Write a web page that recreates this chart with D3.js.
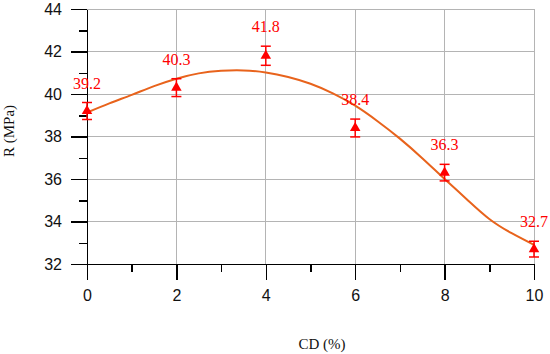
<!doctype html>
<meta charset="utf-8">
<style>
    body { margin: 0; background: #fff; }
    .axis path, .axis line { fill: none; stroke: #000; stroke-width: 1.5; shape-rendering: crispEdges; }
    .axis text { font-family: "Liberation Sans", Arial, sans-serif; font-size: 16px; fill: #111; }
    .grid line { stroke: #b4b4b4; stroke-width: 1; shape-rendering: crispEdges; }
    .title { font-family: "Liberation Serif", "Times New Roman", serif; font-size: 15px; fill: #111; }
    .lbl { font-family: "Liberation Serif", "Times New Roman", serif; font-size: 16px; fill: #ff0000; }
</style>
<body>
<script src="https://d3js.org/d3.v7.min.js"></script>
<script>
    // measured points
    const cd = [0, 2, 4, 6, 8, 10];
    const strength = [39.2, 40.3, 41.8, 38.4, 36.3, 32.7];
    const errors = [0.4, 0.42, 0.45, 0.42, 0.39, 0.37];
    // fitted curve
    const fitX = [0, 0.5, 1, 1.5, 2, 2.5, 3, 3.5, 4, 4.5, 5, 5.5, 6, 6.5, 7, 7.5, 8, 8.5, 9, 9.5, 10];
    const fitY = [39.13, 39.56, 39.96, 40.37, 40.72, 40.97, 41.09, 41.11, 41.01, 40.8, 40.48, 40.03, 39.45, 38.72, 37.9, 36.98, 36.0, 35.04, 34.12, 33.45, 32.9];
    // ticks
    const xTicks = [0, 2, 4, 6, 8, 10];
    const xMinor = [1, 3, 5, 7, 9];
    const yTicks = [32, 34, 36, 38, 40, 42, 44];
    const yMinor = [33, 35, 37, 39, 41, 43];

    const margin = {top: 9, right: 16, bottom: 90, left: 87};
    const width = 550 - margin.left - margin.right;
    const height = 354 - margin.top - margin.bottom;

    const x = d3.scaleLinear().domain([0, 10]).range([0, width]);
    const y = d3.scaleLinear().domain([32, 44]).range([height, 0]);

    const svg = d3.select('body')
        .append('svg')
        .attr('width', 550)
        .attr('height', 354)
        .append('g')
        .attr('transform', `translate(${margin.left}, ${margin.top})`);

    // grid
    const grid = svg.append('g').attr('class', 'grid');
    grid.selectAll('.gx').data(xTicks.slice(1)).enter().append('line')
        .attr('x1', d => x(d)).attr('x2', d => x(d)).attr('y1', 0).attr('y2', height);
    grid.selectAll('.gy').data(yTicks.slice(1)).enter().append('line')
        .attr('x1', 0).attr('x2', width).attr('y1', d => y(d)).attr('y2', d => y(d));

    // axes
    svg.append('g').attr('class', 'axis').attr('transform', `translate(0, ${height})`)
        .call(d3.axisBottom(x).tickValues(xMinor).tickSize(8).tickSizeOuter(0).tickFormat(''));
    svg.append('g').attr('class', 'axis').attr('transform', `translate(0, ${height})`)
        .call(d3.axisBottom(x).tickValues(xTicks).tickSize(16).tickSizeOuter(0).tickPadding(10));
    svg.append('g').attr('class', 'axis')
        .call(d3.axisLeft(y).tickValues(yMinor).tickSize(8).tickSizeOuter(0).tickFormat(''));
    svg.append('g').attr('class', 'axis')
        .call(d3.axisLeft(y).tickValues(yTicks).tickSize(16).tickSizeOuter(0).tickPadding(9));

    // fitted curve
    svg.append('path')
        .datum(fitX.map((d, i) => [d, fitY[i]]))
        .attr('fill', 'none')
        .attr('stroke', '#e8631c')
        .attr('stroke-width', 2)
        .attr('d', d3.line().x(d => x(d[0])).y(d => y(d[1])).curve(d3.curveNatural));

    // error bars
    const pts = cd.map((d, i) => ({x: d, y: strength[i], e: errors[i]}));
    const eb = svg.append('g').attr('stroke', '#ff0000').attr('stroke-width', 1.5);
    eb.selectAll('.v').data(pts).enter().append('line')
        .attr('x1', d => x(d.x)).attr('x2', d => x(d.x))
        .attr('y1', d => y(d.y + d.e)).attr('y2', d => y(d.y - d.e));
    [1, -1].forEach(s => {
        eb.selectAll('.c' + s).data(pts).enter().append('line')
            .attr('x1', d => x(d.x) - 5).attr('x2', d => x(d.x) + 5)
            .attr('y1', d => y(d.y + s * d.e)).attr('y2', d => y(d.y + s * d.e));
    });

    // markers
    svg.selectAll('.pt').data(pts).enter().append('path')
        .attr('fill', '#ff0000')
        .attr('transform', d => `translate(${x(d.x)}, ${y(d.y)})`)
        .attr('d', d3.symbol(d3.symbolTriangle, 48));

    // value labels
    svg.selectAll('.lbl').data(pts).enter().append('text')
        .attr('class', 'lbl')
        .attr('text-anchor', 'middle')
        .attr('x', d => x(d.x))
        .attr('y', d => y(d.y + d.e) - 14)
        .text(d => d.y.toFixed(1));

    // axis titles
    svg.append('text').attr('class', 'title')
        .attr('text-anchor', 'middle')
        .attr('x', 322 - margin.left)
        .attr('y', 349 - margin.top)
        .text('CD (%)');
    svg.append('text').attr('class', 'title')
        .attr('text-anchor', 'middle')
        .attr('transform', `translate(${14 - margin.left}, ${131 - margin.top}) rotate(-90)`)
        .text('R (MPa)');
</script>
